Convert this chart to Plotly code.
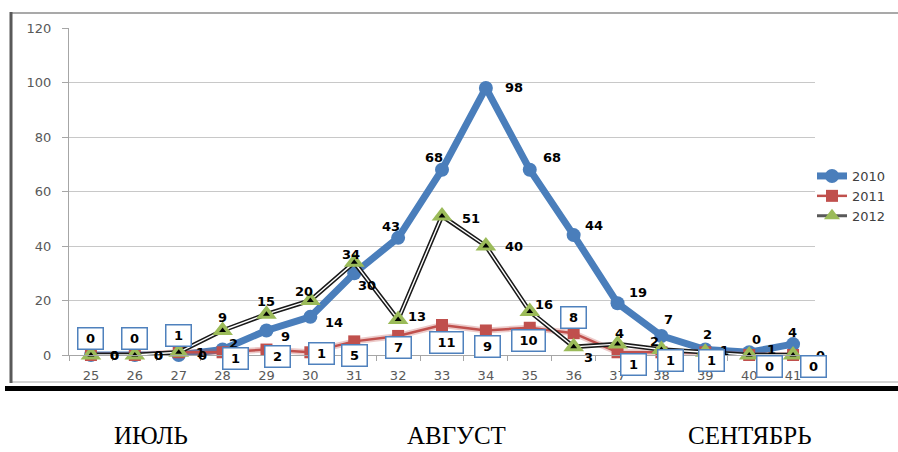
import plotly.graph_objects as go

# Weekly case counts, weeks 25-41
weeks = [25, 26, 27, 28, 29, 30, 31, 32, 33, 34, 35, 36, 37, 38, 39, 40, 41]
cases_2010 = [0, 0, 0, 2, 9, 14, 30, 43, 68, 98, 68, 44, 19, 7, 2, 1, 4]
cases_2011 = [0, 0, 1, 1, 2, 1, 5, 7, 11, 9, 10, 8, 1, 1, 1, 0, 0]
cases_2012 = [0, 0, 1, 9, 15, 20, 34, 13, 51, 40, 16, 3, 4, 2, 1, 0, 0]
series_names = ["2010", "2011", "2012"]
month_names = ["ИЮЛЬ", "АВГУСТ", "СЕНТЯБРЬ"]
y_ticks = [0, 20, 40, 60, 80, 100, 120]

# Label placement offsets in pixels (dx right, dy down), one per week
off_2010 = [(24, 0), (24, 0), (24, 0), (11, -6), (19, 6), (24, 6), (13, 12), (-7, -11),
            (-8, -12), (28, 0), (22, -12), (20, -10), (20, -11), (7, -16), (2, -15),
            (22, -3), (-1, -12)]
off_2011 = [(0, -17), (0, -17), (0, -17), (13, 6), (11, 7), (11, 1), (0, 14), (0, 12),
            (4, 17), (2, 16), (-1, 13), (0, -16), (16, 12), (9, 8), (6, 8), (20, 11),
            (20, 11)]
off_2012 = [(24, 0), (24, 0), (22, 0), (0, -13), (0, -13), (-6, -9), (-3, -8), (19, -3),
            (29, 2), (28, 0), (14, -7), (15, 11), (2, -11), (-7, -8), (19, -2), (7, -16),
            (27, 0)]

W, H = 898, 452
PL, PR, PT, PB = 69, 815, 28, 355


def px_x(p):
    return (p - PL) / (PR - PL)


def px_y(p):
    return (PB - p) / (PB - PT)


BLUE = "#4A7EBB"
RED = "#C0504D"
GREEN = "#9BBB59"
cats = [str(w) for w in weeks]

fig = go.Figure()

# 2010
fig.add_trace(go.Scatter(
    x=cats, y=cases_2010, name=series_names[0], mode="lines+markers",
    line=dict(color=BLUE, width=7),
    marker=dict(symbol="circle", size=14, color=BLUE),
    cliponaxis=False,
))

# 2011: soft halo under a thin line
fig.add_trace(go.Scatter(
    x=cats, y=cases_2011, mode="lines", showlegend=False, hoverinfo="skip",
    line=dict(color="rgba(192,80,77,0.30)", width=6), cliponaxis=False,
))
fig.add_trace(go.Scatter(
    x=cats, y=cases_2011, name=series_names[1], mode="lines+markers",
    line=dict(color=RED, width=2.5),
    marker=dict(symbol="square", size=12, color=RED),
    cliponaxis=False,
))

# 2012: legend entry only
fig.add_trace(go.Scatter(
    x=[None], y=[None], name=series_names[2], mode="lines+markers",
    line=dict(color="#595959", width=3),
    marker=dict(symbol="triangle-up", size=14, color=GREEN),
))
# 2012: double line (black with white core), then markers
fig.add_trace(go.Scatter(
    x=cats, y=cases_2012, mode="lines", showlegend=False, hoverinfo="skip",
    line=dict(color="#1A1A1A", width=4.5), cliponaxis=False,
))
fig.add_trace(go.Scatter(
    x=cats, y=cases_2012, mode="lines", showlegend=False, hoverinfo="skip",
    line=dict(color="white", width=1.4), cliponaxis=False,
))
fig.add_trace(go.Scatter(
    x=cats, y=cases_2012, mode="markers", showlegend=False,
    marker=dict(symbol="triangle-up", size=18, color=GREEN),
    cliponaxis=False,
))
fig.add_trace(go.Scatter(
    x=cats, y=cases_2012, mode="markers", showlegend=False, hoverinfo="skip",
    marker=dict(symbol="triangle-up", size=6, color="black"),
    cliponaxis=False,
))

annotations = []
lab_font = dict(family="DejaVu Sans", size=13, color="black", weight="bold")


def add_labels(values, offsets, boxed=False):
    # category axis: annotation x is the category's serial index
    for i, (v, (dx, dy)) in enumerate(zip(values, offsets)):
        a = dict(x=i, y=v, xref="x", yref="y", text=str(v), showarrow=False,
                 xshift=dx, yshift=-dy, font=lab_font, xanchor="center",
                 yanchor="middle")
        if boxed:
            a.update(bordercolor="#4F81BD", borderwidth=1.5, bgcolor="white",
                     borderpad=1, width=14 + 8 * len(str(v)), height=18)
        annotations.append(a)


add_labels(cases_2010, off_2010)
add_labels(cases_2012, off_2012)
add_labels(cases_2011, off_2011, boxed=True)

# Month captions under the chart
for name, cx in zip(month_names, [151, 456, 750]):
    annotations.append(dict(
        x=px_x(cx), y=px_y(451), xref="paper", yref="paper", text=name,
        showarrow=False, xanchor="center", yanchor="bottom",
        font=dict(family="Liberation Serif", size=25, color="black"),
    ))

shapes = [
    # chart frame
    dict(type="line", xref="paper", yref="paper", x0=px_x(11), x1=px_x(900),
         y0=px_y(13), y1=px_y(13), line=dict(color="#8C8C8C", width=1.5)),
    dict(type="line", xref="paper", yref="paper", x0=px_x(11), x1=px_x(900),
         y0=px_y(382), y1=px_y(382), line=dict(color="#A6A6A6", width=1)),
    dict(type="line", xref="paper", yref="paper", x0=px_x(11), x1=px_x(11),
         y0=px_y(12), y1=px_y(383), line=dict(color="#595959", width=3)),
    # heavy rule below the chart
    dict(type="line", xref="paper", yref="paper", x0=px_x(5), x1=px_x(900),
         y0=px_y(388.5), y1=px_y(388.5), line=dict(color="black", width=5)),
]

fig.update_layout(
    width=W, height=H,
    margin=dict(l=PL, r=W - PR, t=PT, b=H - PB, pad=0, autoexpand=False),
    paper_bgcolor="white", plot_bgcolor="white",
    showlegend=True,
    legend=dict(xref="container", yref="container",
                x=812 / W, y=1 - 161 / H, xanchor="left", yanchor="top",
                font=dict(family="DejaVu Sans", size=13, color="#404040"),
                bgcolor="rgba(0,0,0,0)", tracegroupgap=0, itemwidth=30),
    annotations=annotations,
    shapes=shapes,
    xaxis=dict(
        type="category", range=[-0.5, len(cats) - 0.5],
        showgrid=False, zeroline=False,
        showline=True, linecolor="#A6A6A6", linewidth=1,
        ticks="outside", tickson="boundaries", ticklen=5, tickcolor="#A6A6A6",
        tickfont=dict(family="DejaVu Sans", size=13, color="#595959"),
        ticklabelstandoff=8,
    ),
    yaxis=dict(
        range=[0, 120], tickvals=y_ticks,
        showgrid=True, gridcolor="#C8C8C8", gridwidth=1, zeroline=False,
        showline=True, linecolor="#A6A6A6", linewidth=1,
        ticks="outside", ticklen=6, tickcolor="#A6A6A6",
        tickfont=dict(family="DejaVu Sans", size=13, color="#595959"),
        ticklabelstandoff=8,
    ),
)

fig.write_html("out.html")
